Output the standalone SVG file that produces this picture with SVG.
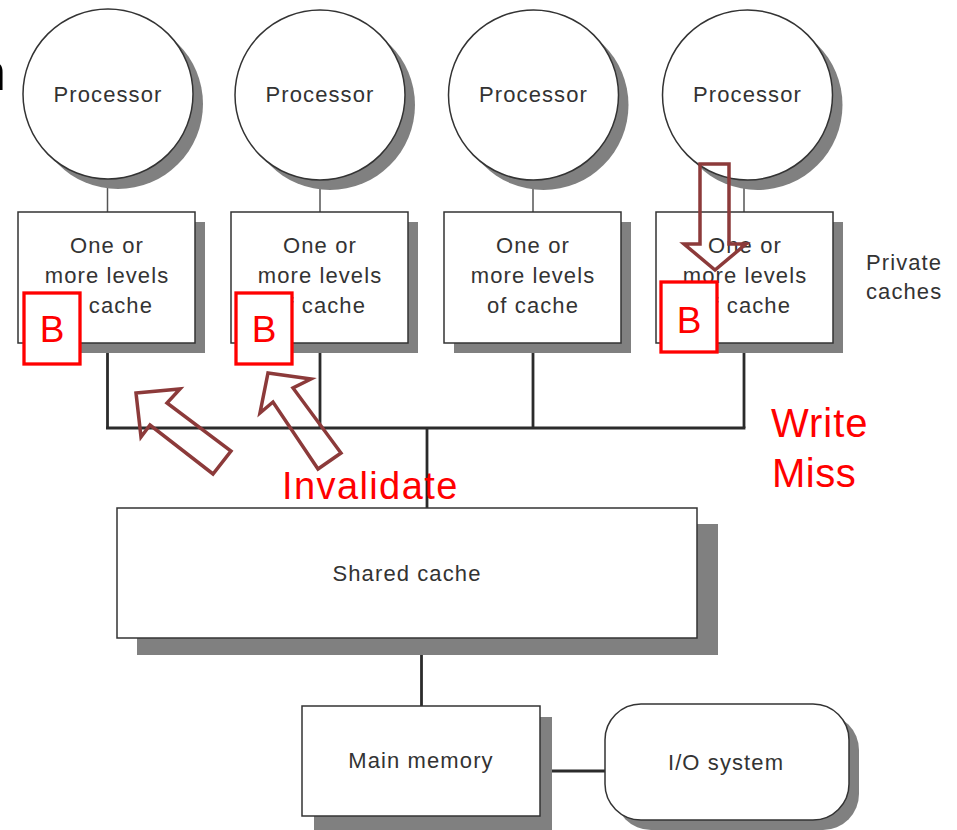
<svg xmlns="http://www.w3.org/2000/svg" width="957" height="830" viewBox="0 0 957 830">
  <style>
    .shadow { fill: #808080; stroke: none; }
    .node { fill: #ffffff; stroke: #333333; stroke-width: 1.5; }
    .lbl { font-family: "Liberation Sans", Arial, sans-serif; font-size: 22px; fill: #333333; letter-spacing: 1.1px; text-anchor: middle; }
    .side { font-family: "Liberation Sans", Arial, sans-serif; font-size: 22px; fill: #333333; letter-spacing: 1.1px; }
    .thin { stroke: #555555; stroke-width: 1.5; fill: none; }
    .bus { stroke: #2b2b2b; stroke-width: 2.8; fill: none; }
    .mark { fill: #ffffff; stroke: #ff0000; stroke-width: 3.3; }
    .markText { font-family: "Liberation Sans", Arial, sans-serif; font-size: 37px; fill: #ff0000; text-anchor: middle; }
    .note { font-family: "Liberation Sans", Arial, sans-serif; fill: #ff0000; }
    .flow { fill: none; stroke: #8c3a3a; stroke-width: 3.5; stroke-linejoin: miter; }
  </style>

  <rect width="957" height="830" fill="#ffffff"/>

  <!-- fragment of a title cut off at the left edge -->
  <text x="-23" y="90" font-family="Liberation Sans, Arial, sans-serif" font-size="52" fill="#000000">n</text>

  <!-- connectors -->
  <g id="connectors">
    <line class="thin" x1="107.5" y1="178" x2="107.5" y2="212"/>
    <line class="thin" x1="320" y1="178" x2="320" y2="212"/>
    <line class="thin" x1="533" y1="178" x2="533" y2="212"/>
    <line class="thin" x1="744" y1="178" x2="744" y2="212"/>
    <line class="bus" x1="107.5" y1="343" x2="107.5" y2="428"/>
    <line class="bus" x1="320" y1="343" x2="320" y2="428"/>
    <line class="bus" x1="533" y1="343" x2="533" y2="428"/>
    <line class="bus" x1="744" y1="343" x2="744" y2="428"/>
    <line class="bus" x1="106" y1="428" x2="745.4" y2="428"/>
    <line class="bus" x1="427" y1="428" x2="427" y2="508"/>
    <line class="bus" x1="421.5" y1="638" x2="421.5" y2="706"/>
    <line class="bus" x1="540" y1="771" x2="605" y2="771"/>
  </g>

  <!-- processors -->
  <g id="cpu1">
    <circle class="shadow" cx="118" cy="104" r="85"/>
    <circle class="node" cx="108" cy="94" r="85"/>
    <text class="lbl" x="108" y="102">Processor</text>
  </g>
  <g id="cpu2">
    <circle class="shadow" cx="330" cy="105" r="85"/>
    <circle class="node" cx="320" cy="95" r="85"/>
    <text class="lbl" x="320" y="102">Processor</text>
  </g>
  <g id="cpu3">
    <circle class="shadow" cx="543.5" cy="105" r="85"/>
    <circle class="node" cx="533.5" cy="95" r="85"/>
    <text class="lbl" x="533.5" y="102">Processor</text>
  </g>
  <g id="cpu4">
    <circle class="shadow" cx="757.5" cy="105" r="85"/>
    <circle class="node" cx="747.5" cy="95" r="85"/>
    <text class="lbl" x="747.5" y="102">Processor</text>
  </g>

  <!-- private caches -->
  <g id="cache1">
    <rect class="shadow" x="28" y="222" width="177" height="131"/>
    <rect class="node" x="18" y="212" width="177" height="131"/>
    <text class="lbl" x="107" y="253">One or</text>
    <text class="lbl" x="107" y="283">more levels</text>
    <text class="lbl" x="107" y="313">of cache</text>
  </g>
  <g id="cache2">
    <rect class="shadow" x="241" y="222" width="177" height="131"/>
    <rect class="node" x="231" y="212" width="177" height="131"/>
    <text class="lbl" x="320" y="253">One or</text>
    <text class="lbl" x="320" y="283">more levels</text>
    <text class="lbl" x="320" y="313">of cache</text>
  </g>
  <g id="cache3">
    <rect class="shadow" x="454" y="222" width="177" height="131"/>
    <rect class="node" x="444" y="212" width="177" height="131"/>
    <text class="lbl" x="533" y="253">One or</text>
    <text class="lbl" x="533" y="283">more levels</text>
    <text class="lbl" x="533" y="313">of cache</text>
  </g>
  <g id="cache4">
    <rect class="shadow" x="666" y="222" width="177" height="131"/>
    <rect class="node" x="656" y="212" width="177" height="131"/>
    <text class="lbl" x="745" y="253">One or</text>
    <text class="lbl" x="745" y="283">more levels</text>
    <text class="lbl" x="745" y="313">of cache</text>
  </g>
  <g id="private-label">
    <text class="side" x="866" y="270">Private</text>
    <text class="side" x="866" y="299">caches</text>
  </g>

  <!-- shared cache -->
  <g id="shared">
    <rect class="shadow" x="137" y="524" width="581" height="131"/>
    <rect class="node" x="117" y="508" width="580" height="130"/>
    <text class="lbl" x="407" y="581">Shared cache</text>
  </g>

  <!-- memory and I/O -->
  <g id="memory">
    <rect class="shadow" x="314" y="717" width="238" height="113"/>
    <rect class="node" x="302" y="706" width="238" height="110"/>
    <text class="lbl" x="421" y="768">Main memory</text>
  </g>
  <g id="io">
    <rect class="shadow" x="615" y="714" width="244" height="116" rx="36" ry="36"/>
    <rect class="node" x="605" y="704" width="244" height="116" rx="36" ry="36"/>
    <text class="lbl" x="726" y="770">I/O system</text>
  </g>

  <!-- block markers -->
  <g id="mark1">
    <rect class="mark" x="24" y="293" width="56" height="71"/>
    <text class="markText" x="52" y="342">B</text>
  </g>
  <g id="mark2">
    <rect class="mark" x="236" y="293" width="56" height="71"/>
    <text class="markText" x="264" y="342">B</text>
  </g>
  <g id="mark3">
    <rect class="mark" x="661" y="282" width="56" height="70"/>
    <text class="markText" x="689" y="333">B</text>
  </g>

  <!-- transaction arrows -->
  <g id="arrows">
    <polygon class="flow" points="700,164 729,164 729,244 746,244 715,270 684,244 700,244"/>
    <polygon class="flow" points="136,393 180,389 167,403 231,451 213,474 150,425 141,437"/>
    <polygon class="flow" points="268,373 311,379 293,388 341,453 318,469 273,402 260,413"/>
  </g>

  <!-- annotations -->
  <g id="annotations">
    <text class="note" x="282" y="499" font-size="38" letter-spacing="1.4">Invalidate</text>
    <text class="note" x="771" y="437" font-size="40" letter-spacing="1">Write</text>
    <text class="note" x="772" y="487" font-size="40" letter-spacing="0.5">Miss</text>
  </g>
</svg>
